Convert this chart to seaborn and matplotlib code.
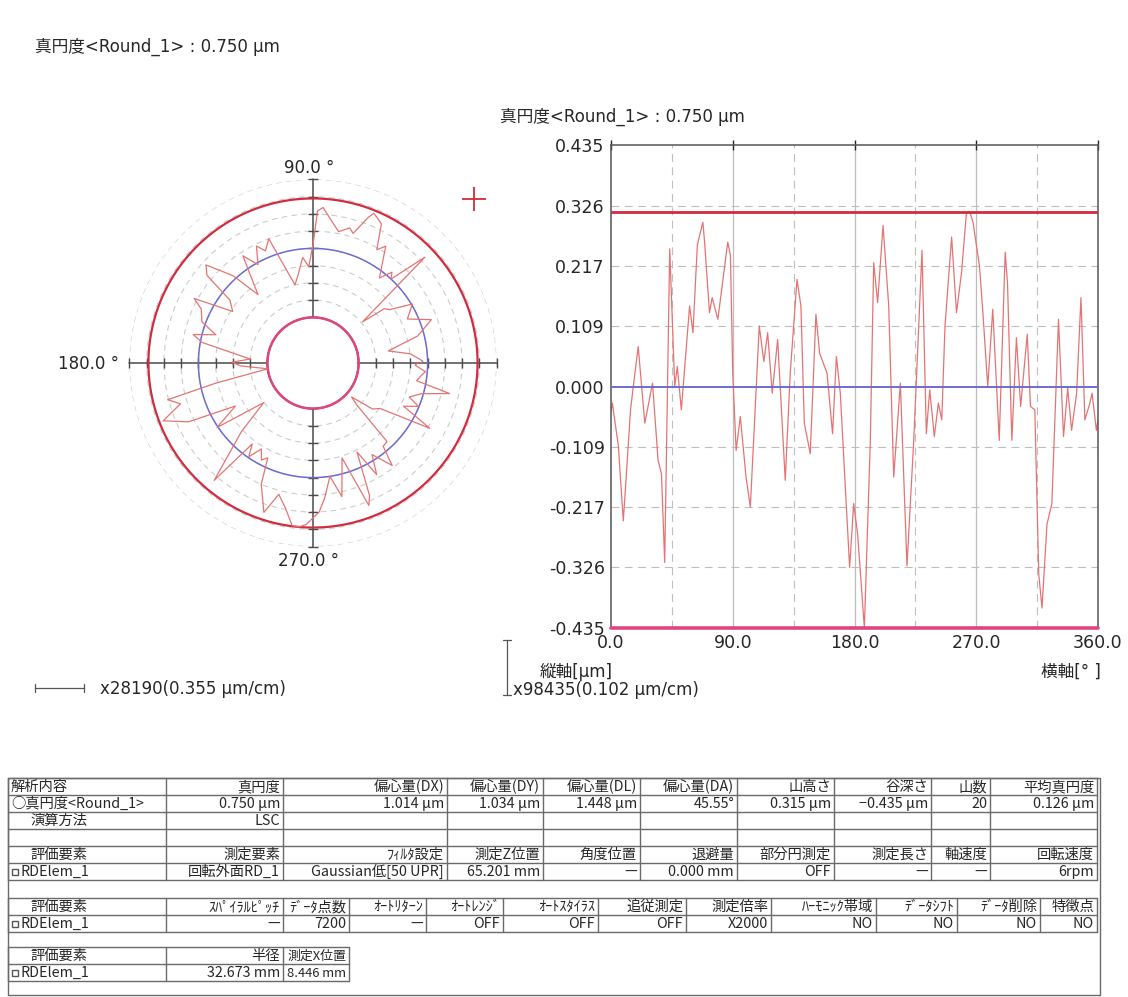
import numpy as np
import pandas as pd
import matplotlib
matplotlib.use("Agg")
import matplotlib.pyplot as plt
import seaborn as sns

sns.set_theme(style="white")
plt.rcParams["font.family"] = ["DejaVu Sans", "Noto Sans CJK JP"]
plt.rcParams["axes.unicode_minus"] = False

# ---- roundness profile (angle in degrees, deviation from LSC circle in um) ----
angle_deg = [
    0.0, 1.0, 5.4, 9.1, 14.5, 20.1, 25.0, 30.7, 34.8, 37.3, 39.7, 43.4, 47.1, 49.0,
    52.0, 58.1, 60.6, 63.8, 65.5, 67.9, 69.2, 72.8, 74.8, 79.0, 86.3, 88.3, 90.0,
    92.5, 95.6, 99.8, 103.0, 109.6, 113.0, 115.8, 119.2, 123.2, 128.8, 132.5, 137.5,
    140.4, 142.9, 147.3, 151.5, 154.2, 159.7, 163.8, 166.6, 169.5, 176.4, 179.4,
    182.3, 187.3, 191.7, 194.2, 197.1, 201.1, 205.3, 209.0, 213.9, 218.8, 223.8,
    229.9, 233.1, 235.6, 239.0, 242.0, 244.5, 246.9, 251.8, 255.4, 259.1, 262.7,
    265.1, 267.6, 272.4, 274.9, 278.5, 282.2, 287.0, 291.4, 293.1, 296.3, 299.7,
    302.8, 307.7, 310.1, 313.3, 316.2, 318.6, 322.3, 325.9, 330.8, 334.5, 337.6,
    340.5, 344.2, 347.4, 350.3, 354.0, 355.6, 358.8, 360.0,
]
deviation_um = [
    -0.045, -0.030, -0.106, -0.242, -0.040, 0.072, -0.066, 0.006, -0.133, -0.157,
    -0.317, 0.248, 0.000, 0.036, -0.042, 0.145, 0.097, 0.254, 0.272, 0.296, 0.260,
    0.133, 0.160, 0.121, 0.260, 0.236, 0.024, -0.115, -0.054, -0.163, -0.217, 0.109,
    0.045, 0.097, -0.012, 0.085, -0.169, 0.024, 0.193, 0.145, -0.066, -0.121, 0.130,
    0.060, 0.024, -0.085, 0.054, -0.012, -0.326, -0.211, -0.266, -0.435, -0.097,
    0.223, 0.151, 0.290, 0.145, -0.163, 0.006, -0.323, -0.097, 0.245, -0.085,
    -0.006, -0.090, -0.030, -0.060, 0.109, 0.269, 0.133, 0.205, 0.311, 0.315, 0.296,
    0.217, 0.133, 0.000, 0.139, -0.097, 0.242, 0.187, -0.097, 0.088, -0.036, 0.094,
    -0.036, -0.042, -0.338, -0.399, -0.248, -0.211, 0.121, -0.090, -0.003, -0.079,
    -0.012, 0.160, -0.060, -0.030, -0.012, -0.079, -0.060,
]

peak_um = 0.315
valley_um = -0.435
roundness_um = 0.750
ecc_angle_deg = 45.55
y_ticks = [-0.435, -0.326, -0.217, -0.109, 0.000, 0.109, 0.217, 0.326, 0.435]
x_ticks = [0.0, 90.0, 180.0, 270.0, 360.0]
ring_ticks = [-0.326, -0.217, -0.109, 0.000, 0.109, 0.217, 0.326, 0.435]

title = f"真円度<Round_1> : {roundness_um:.3f} μm"

# ---- result tables ----
table1_rows = [
    ["解析内容", "真円度", "偏心量(DX)", "偏心量(DY)", "偏心量(DL)", "偏心量(DA)",
     "山高さ", "谷深さ", "山数", "平均真円度"],
    ["○真円度<Round_1>", "0.750 μm", "1.014 μm", "1.034 μm", "1.448 μm", "45.55°",
     "0.315 μm", "−0.435 μm", "20", "0.126 μm"],
    ["演算方法", "LSC", "", "", "", "", "", "", "", ""],
    ["", "", "", "", "", "", "", "", "", ""],
    ["評価要素", "測定要素", "ﾌｨﾙﾀ設定", "測定Z位置", "角度位置", "退避量",
     "部分円測定", "測定長さ", "軸速度", "回転速度"],
    ["RDElem_1", "回転外面RD_1", "Gaussian低[50 UPR]", "65.201 mm", "—", "0.000 mm",
     "OFF", "—", "—", "6rpm"],
]
table2_rows = [
    ["評価要素", "ｽﾊﾟｲﾗﾙﾋﾟｯﾁ", "ﾃﾞｰﾀ点数", "ｵｰﾄﾘﾀｰﾝ", "ｵｰﾄﾚﾝｼﾞ", "ｵｰﾄｽﾀｲﾗｽ",
     "追従測定", "測定倍率", "ﾊｰﾓﾆｯｸ帯域", "ﾃﾞｰﾀｼﾌﾄ", "ﾃﾞｰﾀ削除", "特徴点"],
    ["RDElem_1", "—", "7200", "—", "OFF", "OFF", "OFF", "X2000", "NO", "NO", "NO", "NO"],
]
table3_rows = [
    ["評価要素", "半径", "測定X位置"],
    ["RDElem_1", "32.673 mm", "8.446 mm"],
]

# ---- figure ----
W, H = 1128, 997
fig = plt.figure(figsize=(W / 100, H / 100), dpi=100)
fig.patch.set_facecolor("white")

TXT = "#262626"
LINE = "#6a6a6a"
RED = "#d02c3e"
PINK = "#e0457f"
BLUE = "#6c6cd0"
TRACE = "#e47474"
GRID = "#bdbdbd"


def px_box(left, top, width, height):
    return [left / W, 1 - (top + height) / H, width / W, height / H]


page = fig.add_axes([0, 0, 1, 1])
page.set_xlim(0, W)
page.set_ylim(H, 0)
page.axis("off")

profile = pd.DataFrame({"angle": angle_deg, "dev": deviation_um})

# ---- linear profile ----
ax = fig.add_axes(px_box(611, 145, 487, 483))
ax.set_facecolor("white")
for v in y_ticks[1:-1]:
    if v != 0:
        ax.axhline(v, color=GRID, lw=0.8, ls=(0, (7, 5)), zorder=0)
for a in [45, 135, 225, 315]:
    ax.axvline(a, color=GRID, lw=0.8, ls=(0, (7, 5)), zorder=0)
for a in [90, 180, 270]:
    ax.axvline(a, color=GRID, lw=0.9, zorder=0)
sns.lineplot(data=profile, x="angle", y="dev", ax=ax, color=TRACE, lw=0.9,
             estimator=None, sort=False)
ax.axhline(peak_um, color=RED, lw=2.0, zorder=3)
ax.axhline(0.0, color=BLUE, lw=1.4, zorder=3)
ax.axhline(valley_um, color=PINK, lw=2.6, zorder=3, clip_on=False)
ax.set_xlim(0, 360)
ax.set_ylim(-0.435, 0.435)
ax.set_xticks(x_ticks, [f"{t:.1f}" for t in x_ticks])
ax.set_yticks(y_ticks, [f"{t:.3f}" for t in y_ticks])
ax.tick_params(direction="inout", length=7, width=1, colors=TXT, labelsize=12.5,
               pad=1)
ax.tick_params(axis="x", top=True, pad=1)
ax.set_xlabel("")
ax.set_ylabel("")
for s in ax.spines.values():
    s.set_color("#555555")
    s.set_linewidth(1.1)

# ---- polar profile ----
R0 = 0.7226
R_PX = 183.6
axp = fig.add_axes(px_box(313 - R_PX, 363 - R_PX, 2 * R_PX, 2 * R_PX), projection="polar")
axp.set_rorigin(-R0)
axp.set_ylim(valley_um, 0.435)
axp.set_facecolor("none")
axp.set_xticks([])
axp.set_yticks(ring_ticks)
axp.set_yticklabels([])
axp.yaxis.grid(True, color="#cccccc", ls=(0, (5, 4)), lw=0.8)
axp.xaxis.grid(False)
for s in axp.spines.values():
    s.set_visible(False)

circ = np.linspace(0, 2 * np.pi, 721)
axp.plot(circ, np.full_like(circ, peak_um), color=RED, lw=1.6, zorder=3)
axp.plot(circ, np.full_like(circ, 0.0), color=BLUE, lw=1.1, zorder=3)
axp.plot(circ, np.full_like(circ, valley_um), color=PINK, lw=1.8, zorder=3, clip_on=False)

for th, mk in [(0.0, "|"), (np.pi / 2, "_"), (np.pi, "|"), (3 * np.pi / 2, "_")]:
    axp.plot([th, th], [valley_um, 0.435], color="#4a4a4a", lw=1.1, zorder=2, clip_on=False)
    axp.plot([th] * len(ring_ticks), ring_ticks, ls="none", marker=mk, ms=7, mew=1.0,
             color="#4a4a4a", zorder=2, clip_on=False)

sns.lineplot(x=np.radians(profile["angle"]), y=profile["dev"], ax=axp, color=TRACE,
             lw=0.9, estimator=None, sort=False, zorder=4)
axp.set_xlabel("")
axp.set_ylabel("")
axp.plot(np.radians(ecc_angle_deg), 0.7245, marker="+", ms=17, mew=1.3, color=RED,
         clip_on=False)

# ---- page texts ----
tkw = dict(color=TXT, fontsize=12, va="center")
page.text(35, 47, title, ha="left", **tkw)
page.text(500, 117, title, ha="left", **tkw)
page.text(309, 168, "90.0 °", ha="center", **tkw)
page.text(119, 364, "180.0 °", ha="right", **tkw)
page.text(309, 561, "270.0 °", ha="center", **tkw)

# horizontal scale bar for the polar plot
page.plot([35, 84], [688, 688], color="#555555", lw=0.9)
for x in (35, 84):
    page.plot([x, x], [684, 692], color="#555555", lw=0.9)
page.text(100, 689, "x28190(0.355 μm/cm)", ha="left", **tkw)

# vertical scale bar for the linear plot
page.plot([507, 507], [640, 695], color="#555555", lw=0.9)
for y in (640, 695):
    page.plot([503, 511], [y, y], color="#555555", lw=0.9)
page.text(540, 672, "縦軸[μm]", ha="left", **tkw)
page.text(513, 690, "x98435(0.102 μm/cm)", ha="left", **tkw)
page.text(1101, 672, "横軸[° ]", ha="right", **tkw)

CELL_FAMILY = ["Noto Sans CJK JP", "DejaVu Sans"]
CELL_FS = 10.3
renderer = fig.canvas.get_renderer()


def fit_text(t, max_w):
    # shrink a cell text until it fits inside its column
    fs = t.get_fontsize()
    while t.get_window_extent(renderer).width > max_w and fs > 6:
        fs -= 0.25
        t.set_fontsize(fs)


def draw_table(cols, top, row_h, rows, first_x):
    n = len(rows)
    bottom = top + n * row_h
    for i in range(n + 1):
        page.plot([cols[0], cols[-1]], [top + i * row_h] * 2, color=LINE, lw=1.0)
    for x in cols:
        page.plot([x, x], [top, bottom], color=LINE, lw=1.0)
    for r, row in enumerate(rows):
        yc = top + (r + 0.5) * row_h + 0.5
        for c, txt in enumerate(row):
            if not txt:
                continue
            if c == 0:
                if txt.startswith("RDElem"):
                    # small element icon in front of the element name
                    page.plot(cols[0] + 7, yc, marker="s", ms=5, mfc="none",
                              mec="#555555", mew=1.0)
                t = page.text(first_x[r], yc, txt, ha="left", va="center",
                              fontsize=CELL_FS, color=TXT, family=CELL_FAMILY)
                fit_text(t, cols[1] - first_x[r] - 3)
            else:
                t = page.text(cols[c + 1] - 3, yc, txt, ha="right", va="center",
                              fontsize=CELL_FS, color=TXT, family=CELL_FAMILY)
                fit_text(t, cols[c + 1] - cols[c] - 6)


table1_cols = [8, 166, 283, 447, 543, 640, 737, 834, 931, 990, 1097]
table2_cols = [8, 166, 283, 349, 426, 503, 598, 686, 771, 876, 957, 1040, 1097]
table3_cols = [8, 166, 283, 349]

draw_table(table1_cols, 778, 17, table1_rows, [11, 11, 30, 30, 30, 20])
draw_table(table2_cols, 898, 17, table2_rows, [30, 20])
draw_table(table3_cols, 947, 17, table3_rows, [30, 20])

# outer frame around the tables
page.plot([8, 1100, 1100, 8, 8], [778, 778, 995, 995, 778], color=LINE, lw=1.0)

fig.savefig("out.png", dpi=100, facecolor="white")
